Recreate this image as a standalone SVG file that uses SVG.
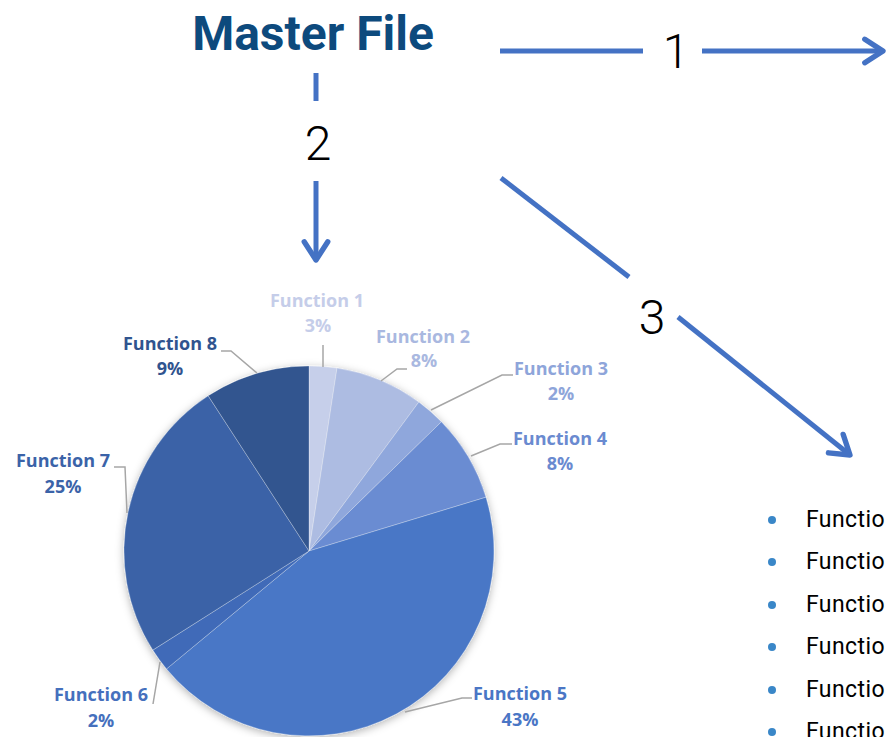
<svg xmlns="http://www.w3.org/2000/svg" width="886" height="737" viewBox="0 0 886 737">
<style>
.conn{stroke:#4472c4;stroke-width:5;fill:none}
.num{font-family:Roboto,"Liberation Sans",sans-serif;font-weight:300;font-size:48px;fill:#000;text-anchor:middle}
.lbl{font-family:"Open Sans","Noto Sans","Liberation Sans",sans-serif;font-weight:700;font-size:18px;text-anchor:middle}
.lead{stroke:#a6a6a6;stroke-width:1.5;fill:none}
.slice{stroke:#ffffff;stroke-opacity:0.35;stroke-width:0.8}
.item{font-family:Roboto,"Liberation Sans",sans-serif;font-size:23px;letter-spacing:0.4px;fill:#000}
.dot{fill:#3a87c8}
</style>
<defs>
<marker id="chev" markerUnits="userSpaceOnUse" markerWidth="30" markerHeight="30" refX="0" refY="0" viewBox="-22 -14 26 28" orient="auto" overflow="visible">
<path d="M-17,-11 L0,0 L-17,11" fill="none" stroke="#4472c4" stroke-width="5" stroke-linecap="round" stroke-linejoin="round"/>
</marker>
<filter id="sh" x="-10%" y="-10%" width="120%" height="120%">
<feDropShadow dx="0" dy="2" stdDeviation="4" flood-color="#000" flood-opacity="0.3"/>
</filter>
</defs>
<rect width="886" height="737" fill="#ffffff"/>

<g id="title">
<text x="313" y="50" font-family="Roboto,'Liberation Sans',sans-serif" font-weight="700" font-size="48" fill="#0d4a7d" text-anchor="middle">Master File</text>
</g>

<g id="connectors">
<line class="conn" x1="500" y1="51" x2="643" y2="51"/>
<line class="conn" x1="702" y1="51" x2="883" y2="51" marker-end="url(#chev)"/>
<text class="num" x="676" y="68">1</text>
<line class="conn" x1="316" y1="73" x2="316" y2="101"/>
<line class="conn" x1="316" y1="181" x2="316" y2="260" marker-end="url(#chev)"/>
<text class="num" x="318" y="160">2</text>
<line class="conn" x1="501" y1="178" x2="629" y2="277"/>
<line class="conn" x1="678" y1="317" x2="850" y2="455" marker-end="url(#chev)"/>
<text class="num" x="652" y="334">3</text>
</g>

<g id="pie">
<g filter="url(#sh)">
<path class="slice" d="M309,551 L309,366 A185,185 0 0 1 337,368.1 Z" fill="#c6cfea"/>
<path class="slice" d="M309,551 L337,368.1 A185,185 0 0 1 418.8,402.1 Z" fill="#adbce2"/>
<path class="slice" d="M309,551 L418.8,402.1 A185,185 0 0 1 441.4,421.8 Z" fill="#8fa7dc"/>
<path class="slice" d="M309,551 L441.4,421.8 A185,185 0 0 1 486,497.2 Z" fill="#6a8cd2"/>
<path class="slice" d="M309,551 L486,497.2 A185,185 0 0 1 166.5,668.9 Z" fill="#4877c6"/>
<path class="slice" d="M309,551 L166.5,668.9 A185,185 0 0 1 152.8,650.1 Z" fill="#3f6bb8"/>
<path class="slice" d="M309,551 L152.8,650.1 A185,185 0 0 1 208.2,395.8 Z" fill="#3a62a7"/>
<path class="slice" d="M309,551 L208.2,395.8 A185,185 0 0 1 309,366 Z" fill="#30548f"/>
</g>
</g>

<g id="leaders">
<path class="lead" d="M323,345 L323,367"/>
<path class="lead" d="M381,381 L397,369 L407,369"/>
<path class="lead" d="M431,410 L502,375 L513,375"/>
<path class="lead" d="M471,456 L500,444 L512,444"/>
<path class="lead" d="M405,712 L462,698 L472,698"/>
<path class="lead" d="M153,704 L160,662"/>
<path class="lead" d="M114,467 L125,467 L127,513"/>
<path class="lead" d="M221,351 L231,351 L257,373"/>
</g>

<g id="label-f1"><text class="lbl" x="317" y="307" fill="#c5cde9">Function 1</text><text class="lbl" x="318" y="332" fill="#c5cde9">3%</text></g>
<g id="label-f2"><text class="lbl" x="423" y="343" fill="#a9b8e0">Function 2</text><text class="lbl" x="424" y="367" fill="#a9b8e0">8%</text></g>
<g id="label-f3"><text class="lbl" x="561" y="375" fill="#8ea5da">Function 3</text><text class="lbl" x="561" y="400" fill="#8ea5da">2%</text></g>
<g id="label-f4"><text class="lbl" x="560" y="445" fill="#6a8ad0">Function 4</text><text class="lbl" x="560" y="470" fill="#6a8ad0">8%</text></g>
<g id="label-f5"><text class="lbl" x="520" y="700" fill="#4a76c5">Function 5</text><text class="lbl" x="520" y="726" fill="#4a76c5">43%</text></g>
<g id="label-f6"><text class="lbl" x="101" y="701" fill="#4570bd">Function 6</text><text class="lbl" x="101" y="727" fill="#4570bd">2%</text></g>
<g id="label-f7"><text class="lbl" x="63" y="467" fill="#3b63a8">Function 7</text><text class="lbl" x="63" y="493" fill="#3b63a8">25%</text></g>
<g id="label-f8"><text class="lbl" x="170" y="350" fill="#30548f">Function 8</text><text class="lbl" x="170" y="375" fill="#30548f">9%</text></g>

<g id="list">
<circle class="dot" cx="772" cy="520" r="4"/><text class="item" x="806" y="527">Functio</text>
<circle class="dot" cx="772" cy="562" r="4"/><text class="item" x="806" y="569">Functio</text>
<circle class="dot" cx="772" cy="605" r="4"/><text class="item" x="806" y="612">Functio</text>
<circle class="dot" cx="772" cy="647" r="4"/><text class="item" x="806" y="654">Functio</text>
<circle class="dot" cx="772" cy="690" r="4"/><text class="item" x="806" y="697">Functio</text>
<circle class="dot" cx="772" cy="732" r="4"/><text class="item" x="806" y="739">Functio</text>
</g>
</svg>
